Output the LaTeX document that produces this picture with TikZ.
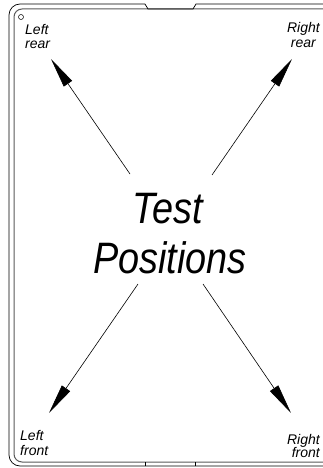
\documentclass[tikz,border=0pt]{standalone}
\usepackage{fontspec}
\setmainfont{Liberation Sans}
\usetikzlibrary{arrows.meta}
\begin{document}
\begin{tikzpicture}[x=1pt,y=-1pt,
  lbl/.style={font=\itshape\fontsize{14}{15}\selectfont, inner sep=0pt},
  big/.style={font=\itshape\fontsize{44}{50}\selectfont, inner sep=0pt, xscale=0.86, transform shape},
  arr/.style={line width=0.6pt, -{Triangle[length=30pt,width=10pt]}},
  outer/.style={line width=0.7pt, black},
  inner/.style={line width=1pt, black!65}]
\useasboundingbox (0,0) rectangle (323,468);
% frame
\draw[inner, rounded corners=8] (323,9) -- (14,9) -- (14,462) -- (323,462);
\draw[outer, rounded corners=11] (145,4) -- (9,4) -- (9,466) -- (323,466);
\draw[outer] (145,4) -- (148,9) -- (193,9) -- (196,4) -- (323,4);
\draw[outer] (145,466) -- (145,462);
\draw[outer] (195,466) -- (195,462);
\node[draw, circle, inner sep=0pt, minimum size=5pt, line width=0.5pt] (hole) at (21,17) {};
% labels
\node[lbl, anchor=base west] (lr1) at (25,35) {Left};
\node[lbl, anchor=base west] (lr2) at (25,49) {rear};
\node[lbl, anchor=base east] (rr1) at (320,33) {Right};
\node[lbl, anchor=base east] (rr2) at (316,48) {rear};
\node[lbl, anchor=base west] (lf1) at (20,440) {Left};
\node[lbl, anchor=base west] (lf2) at (20,455) {front};
\node[lbl, anchor=base east] (rf1) at (320,444) {Right};
\node[lbl, anchor=base east] (rf2) at (320,457) {front};
% title
\node[big, anchor=base] (t1) at (168,223) {Test};
\node[big, anchor=base] (t2) at (170,273) {Positions};
% arrows
\coordinate (lrS) at (130,174); \coordinate (lrT) at (51,59);
\coordinate (rrS) at (212,175); \coordinate (rrT) at (292,59);
\coordinate (lfS) at (138,284); \coordinate (lfT) at (49,413);
\coordinate (rfS) at (203,284); \coordinate (rfT) at (291,413);
\draw[arr] (lrS) -- (lrT);
\draw[arr] (rrS) -- (rrT);
\draw[arr] (lfS) -- (lfT);
\draw[arr] (rfS) -- (rfT);
\end{tikzpicture}
\end{document}
